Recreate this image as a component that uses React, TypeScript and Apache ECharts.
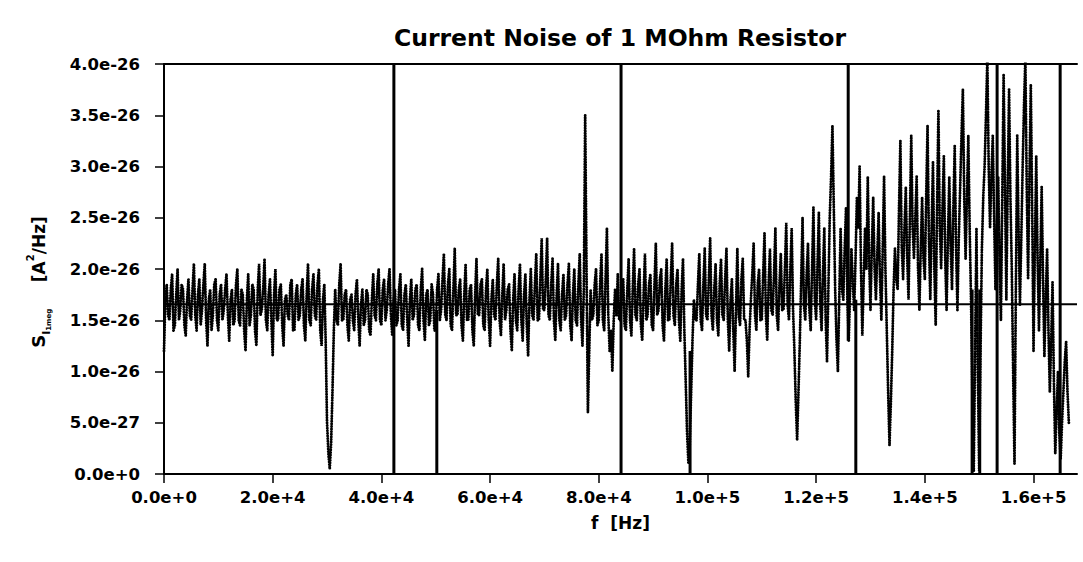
import React, { useEffect, useRef } from "react";
import * as echarts from "echarts";

// Frequency grid of the measured spectrum (Hz between points)
const FREQ_STEP = 250;

// Measured current-noise spectrum, in units of 1e-27 A^2/Hz
const noiseValues: number[] = [
  12, 17, 18.5, 15.5, 15, 18, 19.5, 14, 14.5, 17.5, 20, 15, 16, 18.5, 18, 14.5, 13.5, 17, 19, 15.5,
  15, 18, 20.5, 15.5, 14, 17.5, 19, 14.5, 16, 18.5, 20.5, 15, 12.5, 17, 18, 14, 15.5, 18.5, 19, 15,
  14, 17.5, 18.5, 15, 16, 18, 19.5, 15.5, 13, 17, 18, 14.5, 15, 18.5, 20, 15, 14.5, 18, 17.5, 14,
  12, 17, 19.5, 14.5, 15.5, 18.5, 18, 14, 12.5, 18, 20.5, 15.5, 16, 18, 21, 15, 14, 17.5, 19, 15,
  11.5, 17.5, 20, 15, 15, 18, 18.5, 14.5, 12.5, 17, 17.5, 15.5, 15, 18.5, 19, 14, 14, 17.5, 18.5, 15,
  15.5, 18, 19, 14.5, 13, 17.5, 20.5, 15, 14.5, 18, 19.5, 15.5, 15, 18.5, 20, 14, 12.5, 17, 18.5, 13,
  5, 2, 0.5, 3, 8, 14, 18, 15, 14.5, 18.5, 20.5, 15, 15, 17.5, 18, 14.5, 13, 17, 17.5, 15,
  14, 17.5, 19, 15, 12.5, 16.5, 18, 14.5, 15, 18, 17.5, 14, 13.5, 17, 19.5, 15.5, 15, 18.5, 20, 15,
  14.5, 18, 19, 15, 16, 18.5, 20, 15.5, 13.5, 17, 18, 14.5, 15, 18, 19.5, 14.5, 14, 17.5, 18.5, 15,
  12.5, 17, 19, 15, 15.5, 18, 18.5, 14.5, 14, 18, 20, 15, 13, 17.5, 18, 14.5, 15, 18.5, 17.5, 14,
  14, 18, 19.5, 15, 16, 19, 21.5, 15.5, 15, 18.5, 20, 14.5, 14, 18, 22, 15.5, 15.5, 18, 19, 14.5,
  13, 17.5, 20.5, 15, 15, 18, 18.5, 14, 12.5, 17.5, 21, 15.5, 15.5, 18.5, 19, 14.5, 14, 18, 20, 15,
  12.5, 17, 19, 15.5, 15, 18.5, 21, 15, 13.5, 17.5, 20.5, 15, 16, 18, 18.5, 14, 12, 17, 19.5, 15,
  14, 18, 20.5, 15, 13, 17.5, 19.5, 14.5, 11.5, 17, 20, 15.5, 15, 18.5, 21.5, 15, 15, 19, 23, 16,
  16, 19, 23, 15.5, 15, 18.5, 21, 15, 13, 17.5, 20.5, 15, 14, 17.5, 19.5, 15, 15.5, 18.5, 20.5, 14.5,
  13, 17.5, 20, 15, 14.5, 18.5, 21.5, 15, 12.5, 18, 35, 20, 6, 12, 18, 15, 15.5, 18.5, 20, 14.5,
  15, 18.5, 21.5, 15, 14, 19, 24, 15.5, 12, 14, 10, 15, 18, 15.5, 19.5, 15, 15, 18, 19, 14.5,
  14, 18, 21, 15, 13.5, 18, 22, 15.5, 15, 18.5, 20, 14.5, 13, 17.5, 21.5, 15, 15.5, 18.5, 19.5, 14.5,
  14, 18.5, 22.5, 15.5, 16, 19, 20, 14.5, 13, 18, 21, 15, 15, 19, 22.5, 15.5, 14.5, 18.5, 20, 15,
  13, 18, 21, 14, 9, 4, 1, 3, 8, 13, 17, 15, 15, 18.5, 21.5, 15, 14, 18.5, 22, 15.5,
  15, 19, 23, 15.5, 14, 18, 20.5, 15, 13.5, 18.5, 21, 15.5, 15, 19, 22, 15, 12, 17, 19, 14,
  10, 16, 22, 15.5, 14.5, 19, 21, 15, 15, 13, 9.5, 14, 17, 19.5, 22.5, 15.5, 14, 18.5, 20, 15,
  15, 19.5, 23.5, 15.5, 13, 18.5, 22, 16, 15.5, 19.5, 24, 15.5, 14, 18.5, 21.5, 16, 16, 20, 24.5, 16.5,
  15, 20, 24, 16, 12, 7, 3.3, 8, 13, 19, 25, 16.5, 15, 19.5, 22.5, 16, 14, 20, 26, 17,
  15, 20.5, 25.5, 16.5, 14, 19.5, 24, 15, 11, 18, 25, 29, 34, 26, 18, 13, 10, 17, 24, 18,
  17, 22, 26, 17, 13, 18, 22, 18.5, 16, 21, 27, 24, 30, 20, 13.5, 19, 24, 20, 29, 21,
  16, 22, 27, 20, 17, 21.5, 25.5, 19, 15, 22, 29, 20, 14, 8, 2.8, 7, 12, 18, 22, 19,
  18, 26, 32.5, 22, 19, 24, 28, 21, 17, 25, 33, 24, 21, 25, 29, 20, 16, 22, 27, 21,
  19, 27, 34, 23, 17, 24, 30.5, 20, 14.5, 26, 35.5, 24, 20, 26, 31, 21, 16, 23, 29, 22,
  18, 26, 32, 22, 16, 23, 28, 33, 37.5, 27, 21, 27, 33, 24, 17, 8, 0.3, 12, 24, 10,
  0.3, 12, 22, 27, 30, 35, 40.5, 30, 24, 29, 33, 25, 18, 24, 29, 21, 15, 27, 39, 28,
  17, 28, 37.5, 27, 20, 10, 1, 18, 33, 24, 16.5, 23, 30, 36, 40.5, 28, 19, 29, 38, 26,
  12, 22, 31, 21, 14, 21, 28, 19, 11.5, 17, 22, 14, 8, 13, 18.7, 9, 2, 6, 10, 4,
  1.5, 5, 8, 11, 12.9, 8, 5,
];

// Thermal noise level 4kT/R for 1 MOhm (units of 1e-27 A^2/Hz)
const thermalLevel = 16.56;

// Narrow interference lines (solid vertical strokes)
const spikeFreqs = [42300, 50200, 84100, 96800, 125900, 127300, 148700, 150100, 153300, 164900];
const spikeLows = [0, 0, 0, 0, 13, 0, 0, 0, 0, 0];
const spikeHighs = [40, 16, 40, 12, 40, 17, 18, 18, 40, 40];

// Axis settings
const X_MIN = 0;
const X_MAX = 168000;
const X_INTERVAL = 20000;
const xTickValues = [0, 20000, 40000, 60000, 80000, 100000, 120000, 140000, 160000];
const Y_MIN = 0;
const Y_MAX = 40;
const Y_INTERVAL = 5;
const Y_UNIT = 1e-27;

const FONT = "DejaVu Sans";

export default function App() {
  const ref = useRef<HTMLDivElement>(null);

  useEffect(() => {
    if (!ref.current) return;
    const chart = echarts.init(ref.current, undefined, { renderer: "svg" });

    const lineData = noiseValues.map((v, i) => [i * FREQ_STEP, v]);
    const spikeData = spikeFreqs.map((f, i) => [f, spikeLows[i], spikeHighs[i]]);

    const option: any = {
      animation: false,
      backgroundColor: "#ffffff",
      title: {
        text: "Current Noise of 1 MOhm Resistor",
        left: 615,
        top: 21,
        textAlign: "center",
        textStyle: { fontFamily: FONT, fontSize: 23.5, fontWeight: "bold", color: "#000" },
      },
      grid: { left: 164, right: 6, top: 64, bottom: 88, containLabel: false },
      xAxis: [
        {
          type: "value",
          min: X_MIN,
          max: X_MAX,
          interval: X_INTERVAL,
          position: "bottom",
          name: "f  [Hz]",
          nameLocation: "middle",
          nameGap: 40,
          nameTextStyle: { fontFamily: FONT, fontSize: 17, fontWeight: "bold", color: "#000" },
          axisLine: { show: true, lineStyle: { color: "#000", width: 2 } },
          axisTick: { show: true, inside: false, length: 9, customValues: xTickValues, lineStyle: { color: "#000", width: 1.5 } },
          axisLabel: {
            customValues: xTickValues,
            margin: 15,
            fontFamily: FONT,
            fontSize: 16.5,
            fontWeight: "bold",
            color: "#000",
            formatter: (v: number) => v.toExponential(1),
          },
          splitLine: { show: false },
        },
        {
          type: "value",
          min: X_MIN,
          max: X_MAX,
          position: "top",
          axisLine: { show: true, onZero: false, lineStyle: { color: "#000", width: 2 } },
          axisTick: { show: false },
          axisLabel: { show: false },
          splitLine: { show: false },
        },
      ],
      yAxis: {
        type: "value",
        min: Y_MIN,
        max: Y_MAX,
        interval: Y_INTERVAL,
        name: "{s|S}{i|I}{m|1meg}       {n|[A}{p|2}{n|/Hz]}",
        nameLocation: "middle",
        nameRotate: 90,
        nameGap: 112,
        nameTextStyle: {
          fontFamily: FONT,
          color: "#000",
          padding: [0, 26, 0, 0],
          rich: {
            s: { fontFamily: FONT, fontSize: 18, fontWeight: "bold", lineHeight: 27, color: "#000" },
            n: { fontFamily: FONT, fontSize: 17, fontWeight: "bold", lineHeight: 27, color: "#000" },
            i: { fontFamily: FONT, fontSize: 11, fontWeight: "bold", lineHeight: 11, verticalAlign: "bottom", color: "#000" },
            m: { fontFamily: FONT, fontSize: 7, fontWeight: "bold", lineHeight: 7, verticalAlign: "bottom", color: "#000" },
            p: { fontFamily: FONT, fontSize: 10, fontWeight: "bold", lineHeight: 10, verticalAlign: "top", color: "#000" },
          },
        },
        axisLine: { show: true, lineStyle: { color: "#000", width: 2 } },
        axisTick: { show: true, inside: false, length: 9, lineStyle: { color: "#000", width: 1.5 } },
        axisLabel: {
          margin: 24,
          fontFamily: FONT,
          fontSize: 16.5,
          fontWeight: "bold",
          color: "#000",
          formatter: (v: number) => (v * Y_UNIT).toExponential(1),
        },
        splitLine: { show: false },
      },
      series: [
        {
          name: "thermal",
          type: "line",
          xAxisIndex: 0,
          data: [
            [X_MIN, thermalLevel],
            [X_MAX, thermalLevel],
          ],
          symbol: "none",
          lineStyle: { color: "#000", width: 2.2 },
          z: 1,
        },
        {
          name: "measured",
          type: "line",
          xAxisIndex: 0,
          data: lineData,
          symbol: "none",
          clip: true,
          lineStyle: { color: "#000", width: 2.9, type: [0.1, 2.5], cap: "round" },
          z: 2,
        },
        {
          name: "lines",
          type: "custom",
          xAxisIndex: 0,
          data: spikeData,
          encode: { x: 0, y: [1, 2] },
          renderItem: (params: any, api: any) => {
            const p1 = api.coord([api.value(0), api.value(1)]);
            const p2 = api.coord([api.value(0), api.value(2)]);
            return {
              type: "line",
              shape: { x1: p1[0], y1: p1[1], x2: p2[0], y2: p2[1] },
              style: { stroke: "#000", lineWidth: 3 },
            };
          },
          z: 4,
        },
      ],
    };

    chart.setOption(option);
    return () => chart.dispose();
  }, []);

  return (
    <div
      ref={ref}
      style={{ position: "absolute", left: 0, top: 0, width: 1083, height: 562, background: "#fff" }}
    />
  );
}
